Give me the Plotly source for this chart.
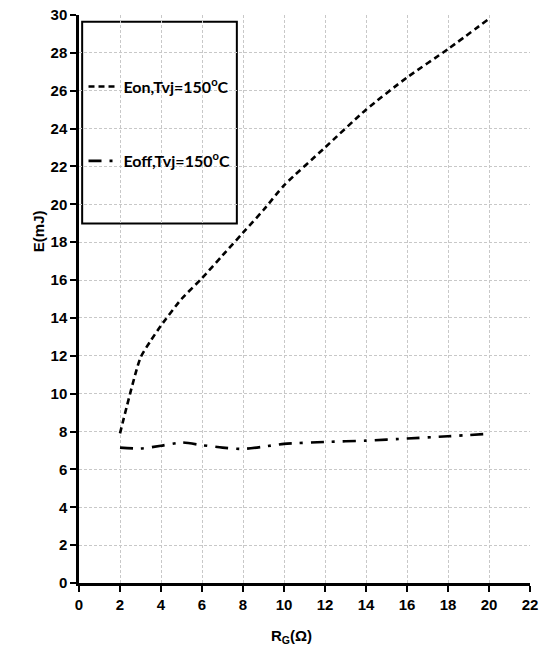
import plotly.graph_objects as go

rg_on = [2, 3, 3.5, 4, 5, 6, 7, 8, 9, 10, 12, 14, 16, 18, 20]
eon = [7.9, 11.9, 12.8, 13.6, 15.0, 16.1, 17.3, 18.5, 19.7, 21.0, 23.0, 25.0, 26.7, 28.2, 29.8]

rg_off = [2, 3, 4, 5, 6, 7, 8, 9, 10, 12, 14, 16, 18, 20]
eoff = [7.15, 7.1, 7.25, 7.42, 7.28, 7.15, 7.08, 7.2, 7.35, 7.45, 7.52, 7.63, 7.75, 7.88]

x_ticks = list(range(0, 23, 2))
y_ticks = list(range(0, 31, 2))

label_on = "Eon,Tvj=150<sup>o</sup>C"
label_off = "Eoff,Tvj=150<sup>o</sup>C"
x_title = "R<sub>G</sub>(Ω)"
y_title = "E(mJ)"

fig = go.Figure()
fig.add_trace(go.Scatter(
    x=rg_on, y=eon, mode="lines", name=label_on, legend="legend", showlegend=True,
    line=dict(color="black", width=2.6, dash="6px,4px", shape="spline", smoothing=0.6),
))
fig.add_trace(go.Scatter(
    x=rg_off, y=eoff, mode="lines", name=label_off, legend="legend2", showlegend=True,
    line=dict(color="black", width=2.6, dash="13px,8px,3px,8px", shape="spline", smoothing=0.6),
))

tickfont = dict(family="Liberation Sans, Arial, sans-serif", size=15, color="black", weight="bold")
legfont = dict(family="Lato, Open Sans, sans-serif", size=16, color="black", weight="bold")

axis_common = dict(
    showline=True, linecolor="black", linewidth=2.5,
    ticks="outside", ticklen=6, tickwidth=2, tickcolor="black",
    showgrid=True, gridcolor="#c8c8c8", gridwidth=1, griddash="3px,2px",
    zeroline=False, tickfont=tickfont, mirror=False, automargin=False,
)

fig.update_layout(
    width=545, height=653, showlegend=True,
    margin=dict(l=79, r=15, t=15, b=70, autoexpand=False),
    paper_bgcolor="white", plot_bgcolor="white",
    xaxis=dict(range=[0, 22], tickmode="array", tickvals=x_ticks, **axis_common),
    yaxis=dict(range=[0, 30], tickmode="array", tickvals=y_ticks, **axis_common),
    legend=dict(x=0.01, y=0.874, xanchor="left", yanchor="middle", bgcolor="rgba(0,0,0,0)",
                font=legfont, itemwidth=30),
    legend2=dict(x=0.01, y=0.743, xanchor="left", yanchor="middle", bgcolor="rgba(0,0,0,0)",
                 font=legfont, itemwidth=30),
    shapes=[dict(type="rect", xref="paper", yref="paper", x0=0.007, x1=0.35, y0=0.633, y1=0.988,
                 line=dict(color="black", width=2), fillcolor="white", layer="below")],
    annotations=[
        dict(text=x_title, xref="paper", yref="paper", x=0.472, y=-0.095, showarrow=False,
             xanchor="center", yanchor="middle",
             font=dict(family="Liberation Sans, Arial, sans-serif", size=15, color="black", weight="bold")),
        dict(text=y_title, xref="paper", yref="paper", x=-0.088, y=0.62, showarrow=False,
             textangle=-90, xanchor="center", yanchor="middle",
             font=dict(family="Liberation Sans, Arial, sans-serif", size=15, color="black", weight="bold")),
    ],
)

fig.write_html("out.html", config={"displayModeBar": False},
               post_script="document.body.style.margin='0';document.body.style.overflow='hidden';")
